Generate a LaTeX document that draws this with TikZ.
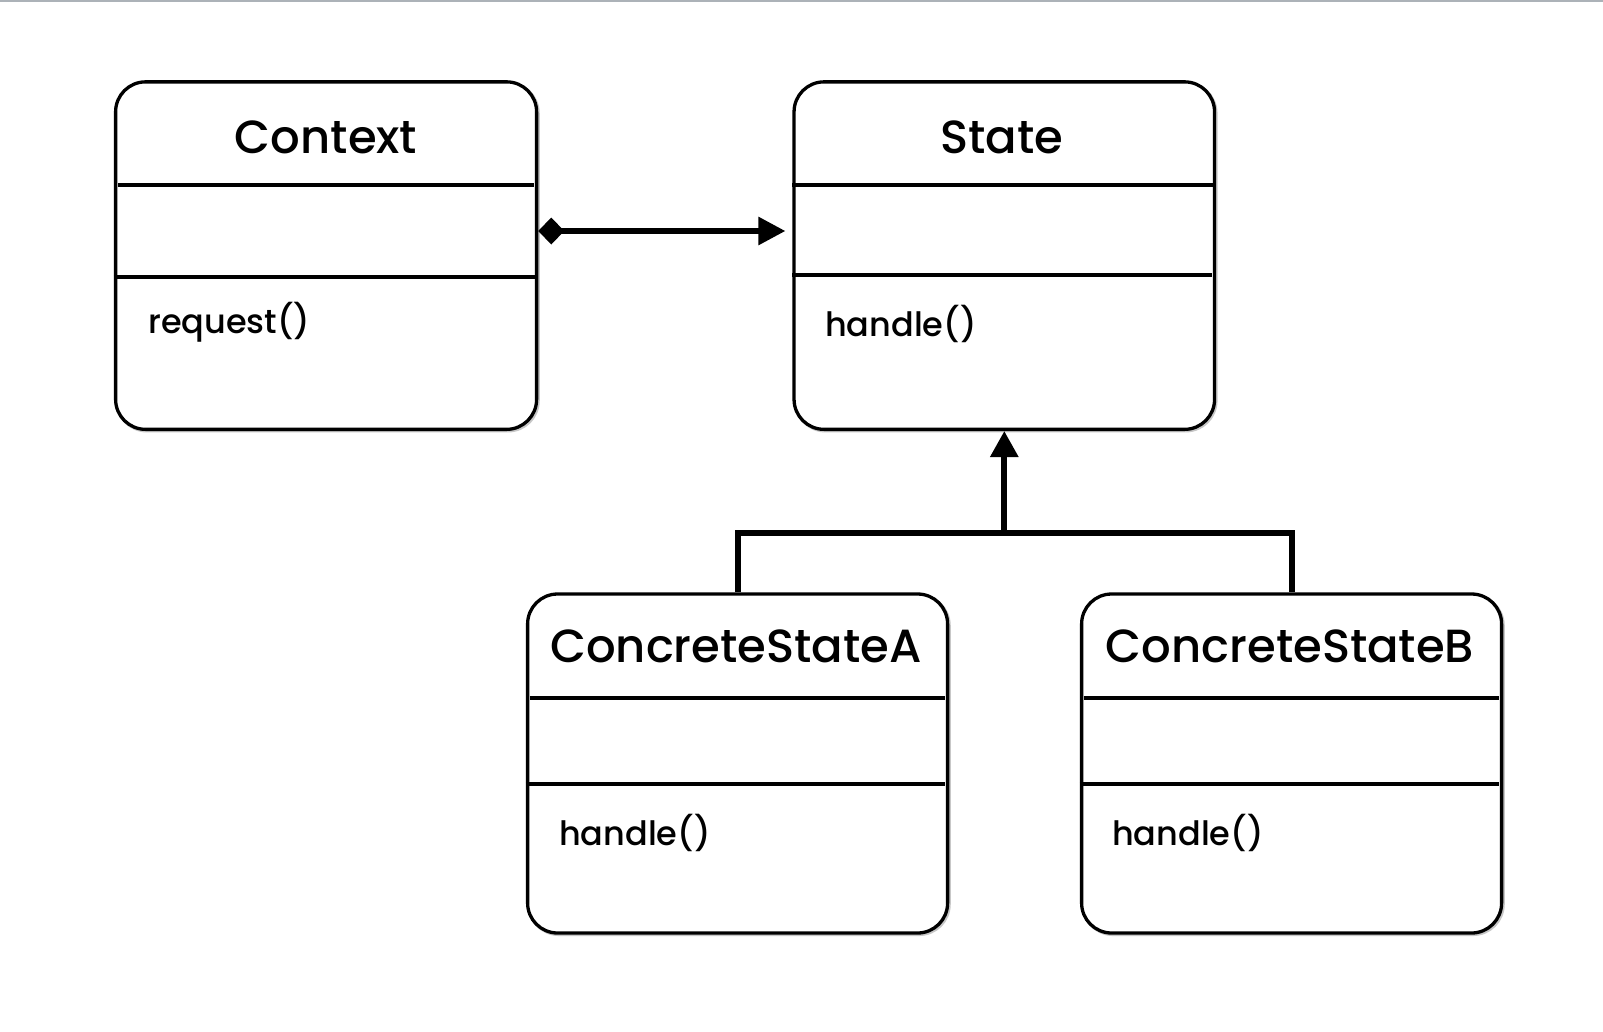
\documentclass[tikz,border=0pt]{standalone}
\usepackage{fontspec}
\setmainfont{Poppins}
\newfontfamily\titlefont{Poppins Medium}
\usetikzlibrary{arrows.meta}
\begin{document}
\begin{tikzpicture}[x=1pt,y=-1pt,
  classbox/.style={draw=black, line width=3.3pt, rounded corners=30pt, fill=white, inner sep=0pt},
  boxshadow/.style={draw=black!22, line width=3.3pt, rounded corners=30pt},
  divline/.style={draw=black, line width=3.1pt},
  titletext/.style={font=\titlefont\fontsize{46.5}{46.5}\selectfont, anchor=base, inner sep=0pt},
  methtext/.style={font=\titlefont\fontsize{33.5}{33.5}\selectfont, anchor=base west, inner sep=0pt},
  comp/.style={draw=black, line width=5.8pt, {Diamond[length=26pt,width=27pt]}-{Triangle[length=27pt,width=27pt]}},
  inh/.style={draw=black, line width=5.8pt}
]
\useasboundingbox[fill=white] (0,0) rectangle (1603,1031);
\draw[draw={rgb,255:red,172;green,178;blue,184}, line width=1.6pt] (0,0.8) -- (1603,0.8);

% soft shadows
\draw[boxshadow] (116.9,83.2) rectangle (538.1,430.8);
\draw[boxshadow] (795.4,83.2) rectangle (1215.9,430.8);
\draw[boxshadow] (528.9,595.4) rectangle (949.1,934.4);
\draw[boxshadow] (1083,595.4) rectangle (1503.1,934.4);

% class boxes
\node[classbox, minimum width=421pt, minimum height=347.5pt] (ctx) at (326.1,255.6) {};
\node[classbox, minimum width=420.5pt, minimum height=347.5pt] (st) at (1004.3,255.6) {};
\node[classbox, minimum width=420pt, minimum height=339pt] (csa) at (737.6,763.5) {};
\node[classbox, minimum width=420pt, minimum height=339pt] (csb) at (1291.6,763.5) {};

% dividers
\draw[divline] ([xshift=4pt]ctx.west |- 0,185) -- ([xshift=-4pt]ctx.east |- 0,185);
\draw[divline] (ctx.west |- 0,277) -- (ctx.east |- 0,277);
\draw[divline] (st.west |- 0,185) -- (st.east |- 0,185);
\draw[divline] (st.west |- 0,275) -- ([xshift=-4pt]st.east |- 0,275);
\draw[divline] ([xshift=4pt]csa.west |- 0,698) -- ([xshift=-4pt]csa.east |- 0,698);
\draw[divline] (csa.west |- 0,784) -- ([xshift=-4pt]csa.east |- 0,784);
\draw[divline] ([xshift=4pt]csb.west |- 0,698) -- ([xshift=-4pt]csb.east |- 0,698);
\draw[divline] (csb.west |- 0,784) -- ([xshift=-4pt]csb.east |- 0,784);

% texts
\node[titletext] (ctxT) at (326.1,153) {Context};
\node[titletext] (stT) at (1002,153) {State};
\node[titletext] (csaT) at (736,662) {ConcreteStateA};
\node[titletext] (csbT) at (1290,662) {ConcreteStateB};
\node[methtext] (ctxM) at (148,333) {request()};
\node[methtext] (stM) at (825,336) {handle()};
\node[methtext] (csaM) at (559,845) {handle()};
\node[methtext] (csbM) at (1112,845) {handle()};

% connectors
\draw[comp, shorten >=7pt] (ctx.east |- 0,231) -- (st.west |- 0,231);
\coordinate (jn) at (st.south |- 0,533);
\draw[inh] (csa.north) |- (jn) -| (csb.north);
\draw[inh, -{Triangle[length=26pt,width=27pt]}] (jn) -- (st.south);
\end{tikzpicture}
\end{document}
